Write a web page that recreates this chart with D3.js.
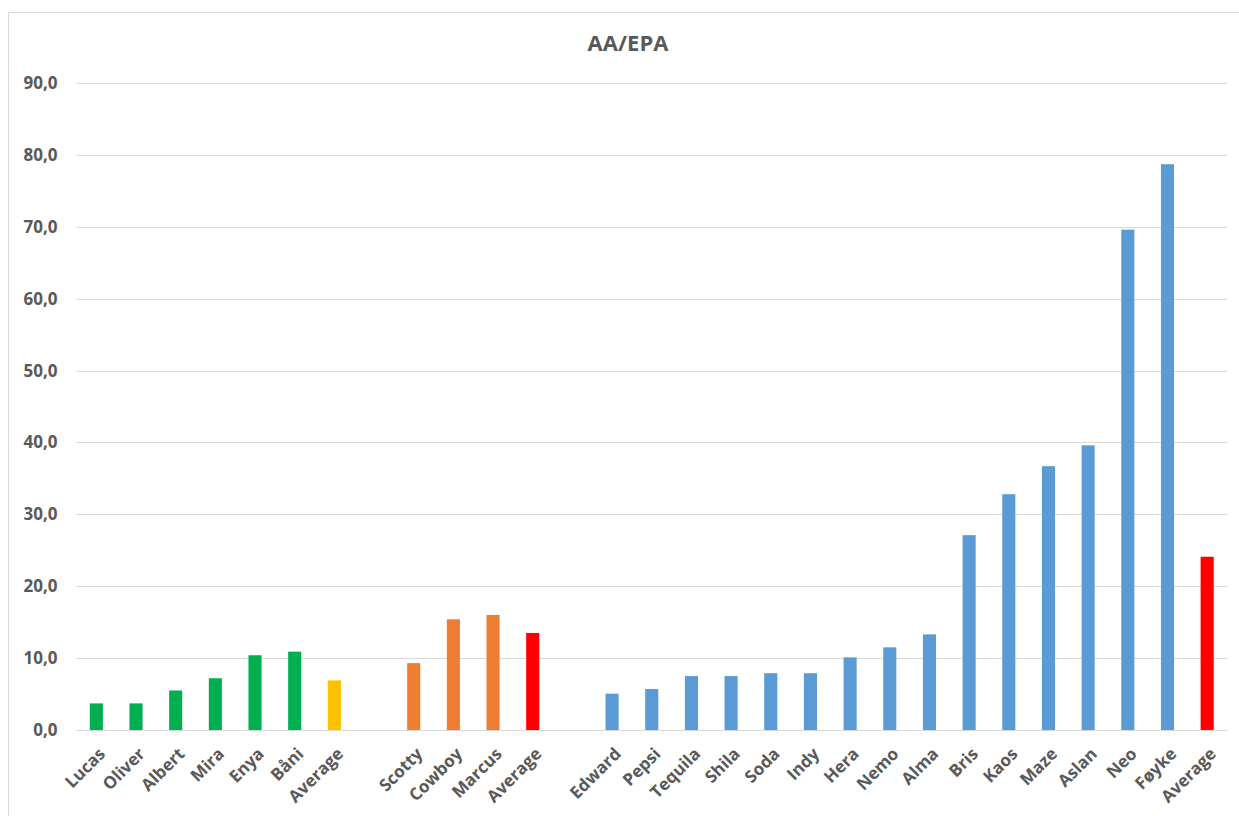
<!DOCTYPE html>
<html><head><meta charset="utf-8">
<script src="https://cdn.jsdelivr.net/npm/d3@7"></script>
<style>html,body{margin:0;padding:0;background:#fff;overflow:hidden}</style>
</head><body><svg id="c" width="1239" height="816"></svg>
<script>
const categories = ["Lucas","Oliver","Albert","Mira","Enya","Båni","Average","",
  "Scotty","Cowboy","Marcus","Average","",
  "Edward","Pepsi","Tequila","Shila","Soda","Indy","Hera","Nemo","Alma","Bris","Kaos","Maze","Aslan","Neo","Føyke","Average"];
const values = [3.7,3.7,5.5,7.2,10.4,10.9,6.9,null,
  9.3,15.4,16.0,13.5,null,
  5.05,5.7,7.5,7.5,7.9,7.9,10.1,11.5,13.3,27.1,32.8,36.7,39.6,69.6,78.7,24.1];
const groups = ["g","g","g","g","g","g","ga","",
  "o","o","o","r","",
  "b","b","b","b","b","b","b","b","b","b","b","b","b","b","b","r"];
const groupColors = {g:"#00B050", ga:"#FFC000", o:"#ED7D31", r:"#FF0000", b:"#5B9BD5"};
const yTicks = [0,10,20,30,40,50,60,70,80,90];
const title = "AA/EPA";

const svg = d3.select("#c");
const mLeft = 76.5, mRight = 1227, mTop = 83, mBottom = 730;
const font = "'Open Sans', 'Liberation Sans', sans-serif";

svg.append("rect").attr("x",8.5).attr("y",12.5).attr("width",1240).attr("height",820)
  .attr("fill","#fff").attr("stroke","#d9d9d9").attr("stroke-width",1);

const keys = categories.map((c,i)=>i);
const x = d3.scaleBand().domain(keys).range([mLeft,mRight]).paddingInner(0.67).paddingOuter(0.335);
const y = d3.scaleLinear().domain([0,90]).range([mBottom,mTop]);

// gridlines
svg.append("g").selectAll("line").data(yTicks).join("line")
  .attr("x1",mLeft).attr("x2",mRight)
  .attr("y1",d=>Math.round(y(d))+0.5).attr("y2",d=>Math.round(y(d))+0.5)
  .attr("stroke","#d9d9d9").attr("stroke-width",1);

// y axis labels
const yAxis = d3.axisLeft(y).tickValues(yTicks).tickSize(0).tickPadding(19)
  .tickFormat(d=>d.toFixed(1).replace(".",","));
const ga = svg.append("g").attr("transform",`translate(${mLeft},0)`).call(yAxis);
ga.select(".domain").remove();
ga.selectAll("text").attr("font-family",font).attr("font-size",17).attr("font-weight","bold").attr("fill","#595959");

// bars
svg.append("g").selectAll("rect").data(keys.filter(i=>values[i]!=null)).join("rect")
  .attr("x",i=>x(i)).attr("width",x.bandwidth())
  .attr("y",i=>y(values[i])).attr("height",i=>y(0)-y(values[i]))
  .attr("fill",i=>groupColors[groups[i]]);

// x axis
const xAxis = d3.axisBottom(x).tickSize(0).tickPadding(0).tickFormat(i=>categories[i]);
const gx = svg.append("g").attr("transform",`translate(0,${mBottom})`).call(xAxis);
gx.select(".domain").remove();
gx.selectAll(".tick text").remove();
gx.selectAll(".tick").append("text")
  .attr("font-family",font).attr("font-size",17).attr("font-weight","bold").attr("fill","#595959")
  .attr("text-anchor","end")
  .attr("transform","translate(10,25) rotate(-45)")
  .text(i=>categories[i]);

svg.append("text").attr("x",628).attr("y",51).attr("text-anchor","middle")
  .attr("font-family",font).attr("font-size",22).attr("font-weight","bold").attr("fill","#595959")
  .text(title);
</script></body></html>
